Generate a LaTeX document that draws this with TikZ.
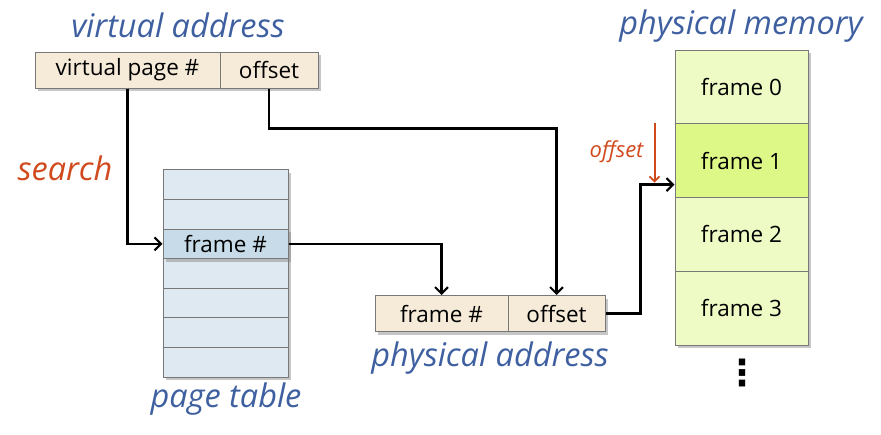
\documentclass[tikz,border=0pt]{standalone}
\usepackage{fontspec}
\setmainfont{Open Sans}
\newfontfamily\symfont{DejaVu Sans}
\usetikzlibrary{shadows,arrows.meta,calc}
\definecolor{beige}{RGB}{246,235,217}
\definecolor{bordergray}{RGB}{120,120,120}
\definecolor{ptlight}{RGB}{223,233,242}
\definecolor{pthigh}{RGB}{199,220,232}
\definecolor{frlight}{RGB}{238,251,197}
\definecolor{frhigh}{RGB}{222,248,136}
\definecolor{titleblue}{RGB}{62,95,160}
\definecolor{accentred}{RGB}{208,74,30}
\tikzset{
  cell/.style={draw=bordergray, line width=1pt, inner sep=0pt, anchor=center,
    font=\fontsize{22.5}{26}\selectfont,
    drop shadow={shadow xshift=3pt, shadow yshift=-3pt, opacity=0.45}},
  addr/.style={cell, fill=beige, minimum height=36pt},
  ptrow/.style={cell, fill=ptlight, minimum width=125pt, minimum height=29.6pt},
  frrow/.style={cell, fill=frlight, minimum width=133pt, minimum height=73.75pt},
  title/.style={text=titleblue, font=\fontsize{32.5}{36}\selectfont\itshape},
  conn/.style={line width=2.3pt, -{Straight Barb[length=6.5pt,width=13pt,line width=2.1pt]}},
}
\begin{document}
\begin{tikzpicture}[x=1pt,y=-1pt]
\useasboundingbox (0,0) rectangle (881,434);
% titles
\node[title] (tva) at (178,25) {virtual address};
\node[title] (tpm) at (741,26) {physical memory};
\node[title] (tpt) at (226,399) {page table};
\node[title] (tpa) at (490,358) {physical address};
\node[text=accentred, font=\fontsize{32.5}{36}\selectfont\itshape] (srch) at (65,168) {search};
% virtual address
\node[addr, minimum width=185pt] (vpn) at (127.5,70) {virtual page \#};
\node[addr, minimum width=98pt] (voff) at (269,70) {offset};
% page table
\foreach \i in {0,...,6}{
  \node[ptrow] (pt\i) at (225.5,{170+29.57*(\i+0.5)}) {};
}
\node[ptrow, fill=pthigh] (pt2) at (225.5,{170+29.57*2.5}) {frame \#};
% physical address
\node[addr, minimum width=133pt] (pf) at (441.5,313.5) {frame \#};
\node[addr, minimum width=97pt] (poff) at (556.5,313.5) {offset};
% physical memory
\node[frrow] (m0) at (741.5,{50+73.75*0.5}) {frame 0};
\node[frrow, fill=frhigh] (m1) at (741.5,{50+73.75*1.5}) {frame 1};
\node[frrow] (m2) at (741.5,{50+73.75*2.5}) {frame 2};
\node[frrow] (m3) at (741.5,{50+73.75*3.5}) {frame 3};
\node[font=\symfont\bfseries\fontsize{36}{36}\selectfont, inner sep=0pt] (dots) at (742,373) {⋮};
% connectors
\draw[conn] (vpn.south) |- (pt2.west);
\draw[conn] (voff.south) -- ++(0,40) -| (poff.north);
\draw[conn] (pt2.east) -| (pf.north);
\coordinate (ent) at ([yshift=-24pt]m1.west);
\draw[conn] (poff.east) -- ++(35,0) |- (ent);
% offset marker
\node[text=accentred, font=\fontsize{22}{26}\selectfont\itshape, anchor=east] (offl) at (647,152) {offset};
\coordinate (rtop) at ([xshift=-20pt]m1.north west);
\draw[accentred, line width=2pt, -{Straight Barb[length=5pt,width=10pt,line width=1.8pt]}] (rtop) -- ([xshift=-20pt,yshift=2pt]ent);
\end{tikzpicture}
\end{document}
